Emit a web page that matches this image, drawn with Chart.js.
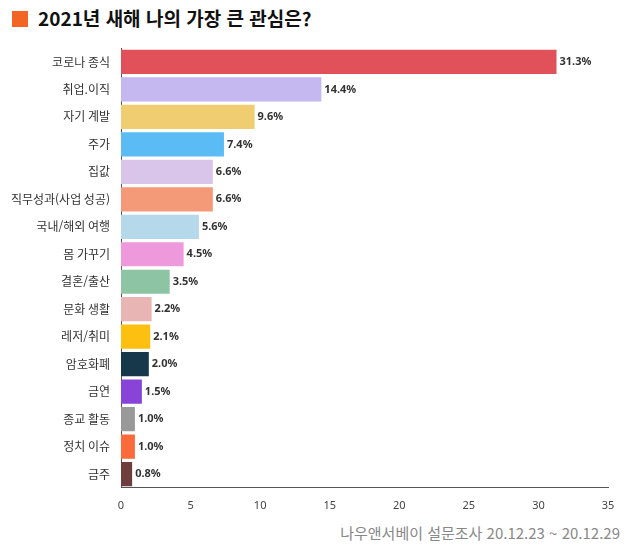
<!DOCTYPE html>
<html lang="ko">
<head>
<meta charset="UTF-8">
<title>2021년 새해 나의 가장 큰 관심은?</title>
<style>
    body { margin: 0; background: #fff; font-family: "Noto Sans CJK KR", "Noto Sans", sans-serif; }
    .wrap { position: relative; width: 640px; height: 553px; }
    h1 { position: absolute; left: 12px; top: 4px; margin: 0; font-size: 19px; font-weight: bold; color: #111; }
    h1 span { display: inline-block; width: 16px; height: 16px; background: #f26522; margin-right: 10px; vertical-align: -1px; }
    #chart { position: absolute; left: 0; top: 38px; }
    .note { position: absolute; right: 20px; top: 522px; font-size: 15px; color: #888; }
</style>
</head>
<body>
<div class="wrap">
    <h1><span></span>2021년 새해 나의 가장 큰 관심은?</h1>
    <canvas id="chart" width="630" height="477"></canvas>
    <div class="note">나우앤서베이 설문조사 20.12.23 ~ 20.12.29</div>
</div>
<script src="https://cdn.jsdelivr.net/npm/chart.js@4"></script>
<script>
    const categories = ['코로나 종식', '취업.이직', '자기 계발', '주가', '집값', '직무성과(사업 성공)', '국내/해외 여행',
        '몸 가꾸기', '결혼/출산', '문화 생활', '레저/취미', '암호화폐', '금연', '종교 활동', '정치 이슈', '금주'];
    const shares = [31.3, 14.4, 9.6, 7.4, 6.6, 6.6, 5.6, 4.5, 3.5, 2.2, 2.1, 2.0, 1.5, 1.0, 1.0, 0.8];
    const barColors = ['#e0515a', '#c5b8f0', '#f0cd70', '#5bbcf5', '#d9c4ea', '#f59a78', '#b5d8ea', '#ee99dc',
        '#8cc4a4', '#e8b4b4', '#fdc010', '#17384a', '#8844d8', '#999999', '#fb6a3a', '#6e3d3d'];

    // draw the percentage next to each bar
    const valueLabels = {
        id: 'valueLabels',
        afterDatasetsDraw(chart) {
            const ctx = chart.ctx;
            ctx.save();
            ctx.font = 'bold 11px "Noto Sans", sans-serif';
            ctx.fillStyle = '#333';
            ctx.textBaseline = 'middle';
            chart.getDatasetMeta(0).data.forEach((bar, i) => {
                ctx.fillText(shares[i].toFixed(1) + '%', bar.x + 3, bar.y);
            });
            ctx.restore();
        }
    };

    new Chart(document.getElementById('chart'), {
        type: 'bar',
        data: {
            labels: categories,
            datasets: [{ data: shares, backgroundColor: barColors, barPercentage: 0.88, categoryPercentage: 1 }]
        },
        options: {
            indexAxis: 'y',
            responsive: false,
            animation: false,
            layout: { padding: { top: 8, right: 22 } },
            plugins: { legend: { display: false }, tooltip: { enabled: false } },
            scales: {
                x: {
                    min: 0, max: 35,
                    ticks: { stepSize: 5, color: '#444', font: { size: 11, family: 'Noto Sans' } },
                    grid: { display: false },
                    border: { color: '#555' }
                },
                y: {
                    afterFit: s => { s.width = 121; },
                    ticks: { color: '#333', font: { size: 12, family: 'Noto Sans CJK KR' } },
                    grid: { display: false },
                    border: { color: '#555' }
                }
            }
        },
        plugins: [valueLabels]
    });
</script>
</body>
</html>
